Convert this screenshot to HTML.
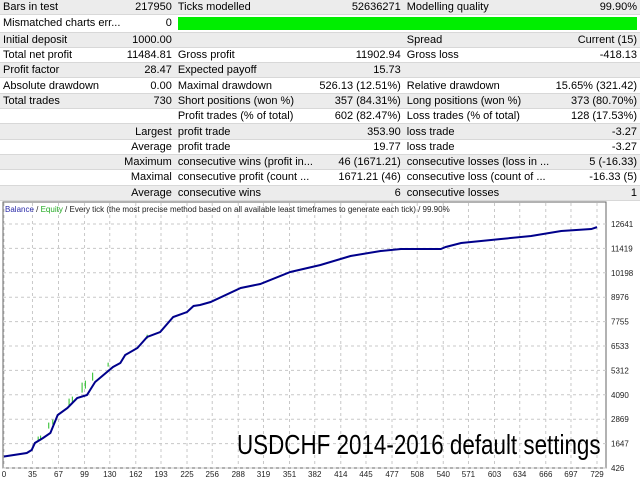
<!DOCTYPE html>
<html><head><meta charset="utf-8"><style>
body{margin:0;width:640px;height:480px;overflow:hidden;background:#fff;font-family:"Liberation Sans",sans-serif;}
table{border-collapse:collapse;width:640px;font-size:11px;color:#000;position:absolute;left:0;top:0}
td{height:14.3px;padding:0 3px;white-space:nowrap;border-bottom:1px solid #d8d8d8;line-height:14px}
tr:nth-child(odd){background:#ececec}
tr:nth-child(even){background:#fff}
.r{text-align:right}
#chart{position:absolute;left:0;top:200px}
</style></head><body>
<table>
<colgroup><col style="width:120px"><col style="width:65px"><col style="width:125px"><col style="width:103px"><col style="width:125px"><col style="width:102px"></colgroup>
<tr><td>Bars in test</td><td class="r">217950</td><td>Ticks modelled</td><td class="r">52636271</td><td>Modelling quality</td><td class="r">99.90%</td></tr>
<tr><td>Mismatched charts err...</td><td class="r">0</td><td colspan="4" style="padding:1px 3px"><div style="background:#00ee00;height:13px"></div></td></tr>
<tr><td>Initial deposit</td><td class="r">1000.00</td><td></td><td></td><td>Spread</td><td class="r">Current (15)</td></tr>
<tr><td>Total net profit</td><td class="r">11484.81</td><td>Gross profit</td><td class="r">11902.94</td><td>Gross loss</td><td class="r">-418.13</td></tr>
<tr><td>Profit factor</td><td class="r">28.47</td><td>Expected payoff</td><td class="r">15.73</td><td></td><td></td></tr>
<tr><td>Absolute drawdown</td><td class="r">0.00</td><td>Maximal drawdown</td><td class="r">526.13 (12.51%)</td><td>Relative drawdown</td><td class="r">15.65% (321.42)</td></tr>
<tr><td>Total trades</td><td class="r">730</td><td>Short positions (won %)</td><td class="r">357 (84.31%)</td><td>Long positions (won %)</td><td class="r">373 (80.70%)</td></tr>
<tr><td></td><td></td><td>Profit trades (% of total)</td><td class="r">602 (82.47%)</td><td>Loss trades (% of total)</td><td class="r">128 (17.53%)</td></tr>
<tr><td colspan="2" class="r">Largest</td><td>profit trade</td><td class="r">353.90</td><td>loss trade</td><td class="r">-3.27</td></tr>
<tr><td colspan="2" class="r">Average</td><td>profit trade</td><td class="r">19.77</td><td>loss trade</td><td class="r">-3.27</td></tr>
<tr><td colspan="2" class="r">Maximum</td><td>consecutive wins (profit in...</td><td class="r">46 (1671.21)</td><td>consecutive losses (loss in ...</td><td class="r">5 (-16.33)</td></tr>
<tr><td colspan="2" class="r">Maximal</td><td>consecutive profit (count ...</td><td class="r">1671.21 (46)</td><td>consecutive loss (count of ...</td><td class="r">-16.33 (5)</td></tr>
<tr><td colspan="2" class="r">Average</td><td>consecutive wins</td><td class="r">6</td><td>consecutive losses</td><td class="r">1</td></tr>
</table>
<svg id="chart" width="640" height="280" font-family="Liberation Sans, sans-serif"></svg>
<script>
const xTicks=[0,35,67,99,130,162,193,225,256,288,319,351,382,414,445,477,508,540,571,603,634,666,697,729];
const yTicks=[426,1647,2869,4090,5312,6533,7755,8976,10198,11419,12641];
const balT=[0,28,34,38,48,57,66,78,90,102,112,134,143,149,164,176,192,208,225,233,241,254,291,315,352,389,426,463,488,537,543,562,611,648,685,722,729];
const balV=[1000,1177,1327,1678,1928,2178,3079,3430,3930,4080,4731,5482,5682,6083,6433,6984,7234,7985,8235,8536,8586,8736,9437,9637,10238,10588,11039,11289,11389,11389,11489,11689,11890,12040,12290,12390,12484];
const eqT=[42,45,55,60,80,84,96,100,109,128,176];
const eqLo=[1750,1800,2400,2600,3500,3700,4200,4400,4800,5500,6900];
const eqHi=[2000,2050,2700,2850,3900,4000,4700,4800,5200,5700,7100];
const svg=document.getElementById('chart');const NS='http://www.w3.org/2000/svg';
const L=4,R=597,T=3,B=268;
const x=t=>L+t*(R-L)/729;
const y=v=>B-(v-426)*(24.4*10)/(12641-426);
function mk(tag,a){const e=document.createElementNS(NS,tag);for(const k in a)e.setAttribute(k,a[k]);svg.appendChild(e);return e;}
const frame=mk('rect',{x:3,y:2,width:603,height:266,fill:'#fff',stroke:'#666'});


xTicks.forEach(t=>{const g=mk('line',{x1:x(t),x2:x(t),y1:3,y2:268,stroke:'#c8c8c8','stroke-dasharray':'3,3'});


const l=mk('text',{x:x(t),y:277,'font-size':8,'text-anchor':'middle',fill:'#222'});l.textContent=t;

});
yTicks.forEach(v=>{const g=mk('line',{x1:3,x2:606,y1:y(v),y2:y(v),stroke:'#c8c8c8','stroke-dasharray':'3,3'});


const l=mk('text',{x:611,y:y(v)+3,'font-size':8,fill:'#222'});l.textContent=v;

});
eqT.forEach((t,i)=>{const s=mk('line',{x1:x(t),x2:x(t),y1:y(eqLo[i]),y2:y(eqHi[i]),stroke:'#22bb22','stroke-width':1});

});
const bal=mk('polyline',{points:balT.map((t,i)=>x(t)+','+y(balV[i])).join(' '),fill:'none',stroke:'#00008b','stroke-width':2});


</script>
<div style="position:absolute;left:5px;top:205px;font-size:8px;color:#222">
<span style="color:#2a2aa8">Balance</span> / <span style="color:#22aa22">Equity</span> / Every tick (the most precise method based on all available least timeframes to generate each tick) / 99.90%</div>
<div style="position:absolute;left:237px;top:429px;font-size:28px;line-height:32px;color:#000;white-space:nowrap;transform:scaleX(0.8);transform-origin:left top">USDCHF 2014-2016 default settings</div>
</body></html>
